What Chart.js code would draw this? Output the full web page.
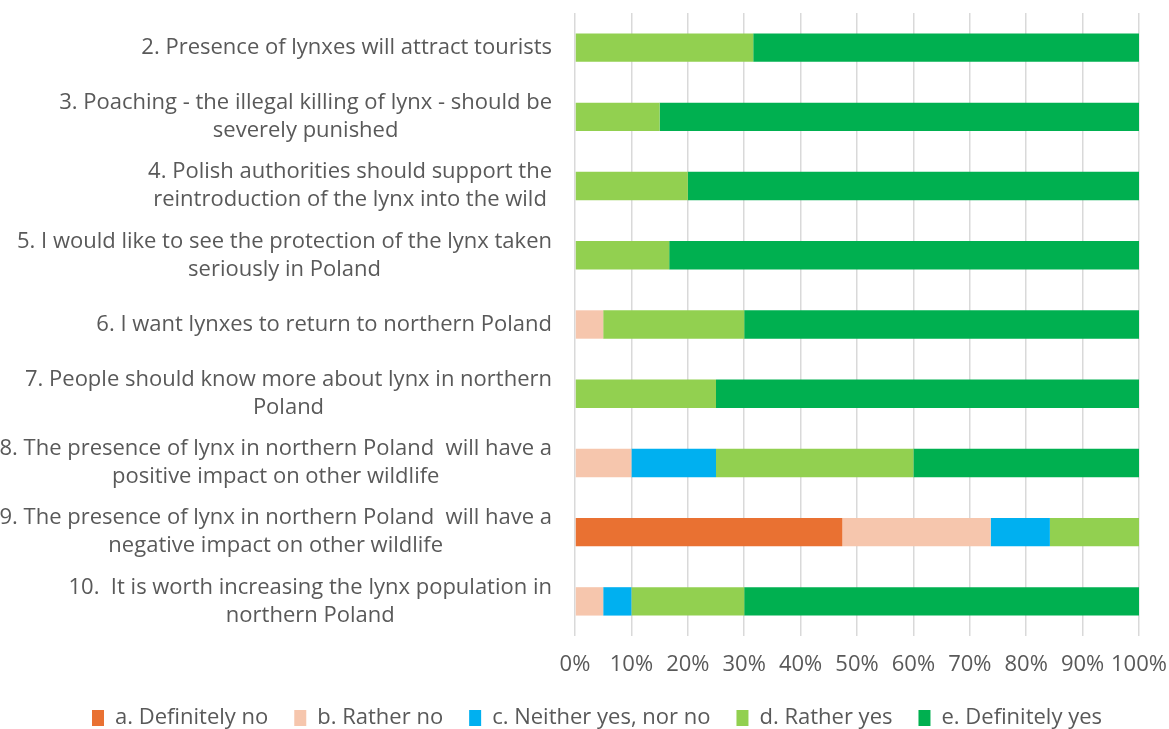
<!DOCTYPE html>
<html>
<head>
<meta charset="utf-8">
<script src="https://cdn.jsdelivr.net/npm/chart.js@4"></script>
<style>
    html, body { margin: 0; padding: 0; background: #ffffff; }
    #wrap { width: 1169px; height: 729px; }
</style>
</head>
<body>
<div id="wrap"><canvas id="lynxChart" width="1169" height="729"></canvas></div>
<script>
// Statements (y categories), multi-line labels
const statements = [
    ['2. Presence of lynxes will attract tourists'],
    ['3. Poaching - the illegal killing of lynx - should be', 'severely punished'],
    ['4. Polish authorities should support the', 'reintroduction of the lynx into the wild'],
    ['5. I would like to see the protection of the lynx taken', 'seriously in Poland'],
    ['6. I want lynxes to return to northern Poland'],
    ['7. People should know more about lynx in northern', 'Poland'],
    ['8. The presence of lynx in northern Poland  will have a', 'positive impact on other wildlife'],
    ['9. The presence of lynx in northern Poland  will have a', 'negative impact on other wildlife'],
    ['10.  It is worth increasing the lynx population in', 'northern Poland']
];

// Answer shares (%)
const definitelyNo  = [0, 0, 0, 0, 0, 0, 0, 47.4, 0];
const ratherNo      = [0, 0, 0, 0, 5, 0, 10, 26.3, 5];
const neither       = [0, 0, 0, 0, 0, 0, 15, 10.5, 5];
const ratherYes     = [31.6, 15, 20, 16.7, 25, 25, 35, 15.8, 20];
const definitelyYes = [68.4, 85, 80, 83.3, 70, 75, 40, 0, 70];

const xTicks = [0, 10, 20, 30, 40, 50, 60, 70, 80, 90, 100];

const FONT = '"Open Sans", Roboto, sans-serif';
const FSIZE = 22;
const TXT = '#595959';

// Left labels: block right-aligned to the axis, lines centered inside the block
const statementLabels = {
    id: 'statementLabels',
    afterDraw(chart) {
        const ctx = chart.ctx;
        const yScale = chart.scales.y;
        const right = 552;
        const lineH = 28;
        ctx.save();
        ctx.font = FSIZE + 'px ' + FONT;
        ctx.fillStyle = TXT;
        ctx.textAlign = 'center';
        ctx.textBaseline = 'middle';
        statements.forEach((lines, i) => {
            const y = yScale.getPixelForValue(i);
            const maxW = Math.max(...lines.map(l => ctx.measureText(l).width));
            const cx = right - maxW / 2;
            const startY = y - (lines.length - 1) * lineH / 2;
            lines.forEach((l, j) => ctx.fillText(l, cx, startY + j * lineH));
        });
        ctx.restore();
    }
};

// keep the legend band short so the plot reaches down like the original
const legendHeight = {
    id: 'legendHeight',
    afterInit(chart) {
        const lg = chart.legend;
        if (!lg) return;
        const fit = lg.fit;
        lg.fit = function () {
            fit.call(this);
            this.height = 48;
        };
    }
};

function makeSet(label, data, color) {
    return {
        label: label,
        data: data,
        backgroundColor: color,
        borderWidth: 0,
        categoryPercentage: 0.82,
        barPercentage: 0.5
    };
}

new Chart(document.getElementById('lynxChart').getContext('2d'), {
    type: 'bar',
    data: {
        labels: statements,
        datasets: [
            makeSet('a. Definitely no', definitelyNo, '#E97132'),
            makeSet('b. Rather no', ratherNo, '#F6C6AD'),
            makeSet('c. Neither yes, nor no', neither, '#00B0F0'),
            makeSet('d. Rather yes', ratherYes, '#92D050'),
            makeSet('e. Definitely yes', definitelyYes, '#00B050')
        ]
    },
    options: {
        indexAxis: 'y',
        responsive: false,
        animation: false,
        layout: { padding: { top: 13, right: 30, bottom: 0, left: 55 } },
        plugins: {
            legend: {
                position: 'bottom',
                labels: {
                    boxWidth: 12,
                    boxHeight: 16,
                    padding: 26,
                    color: TXT,
                    font: { family: FONT, size: FSIZE }
                }
            },
            tooltip: { enabled: false }
        },
        scales: {
            x: {
                stacked: true,
                min: 0,
                max: 100,
                afterBuildTicks(scale) {
                    scale.ticks = xTicks.map(v => ({ value: v }));
                },
                afterFit(scale) {
                    scale.height = 45;
                    scale.paddingRight = 0;
                    scale.paddingLeft = 0;
                },
                ticks: {
                    color: TXT,
                    font: { family: FONT, size: FSIZE },
                    padding: 16,
                    maxRotation: 0,
                    minRotation: 0,
                    autoSkip: false,
                    callback: v => v + '%'
                },
                grid: { color: '#d9d9d9', lineWidth: 1.5, drawTicks: false },
                border: { display: false }
            },
            y: {
                stacked: true,
                ticks: { display: false },
                grid: { display: false },
                border: { display: false },
                afterFit(scale) { scale.width = 520; }
            }
        }
    },
    plugins: [statementLabels, legendHeight]
});
</script>
</body>
</html>
